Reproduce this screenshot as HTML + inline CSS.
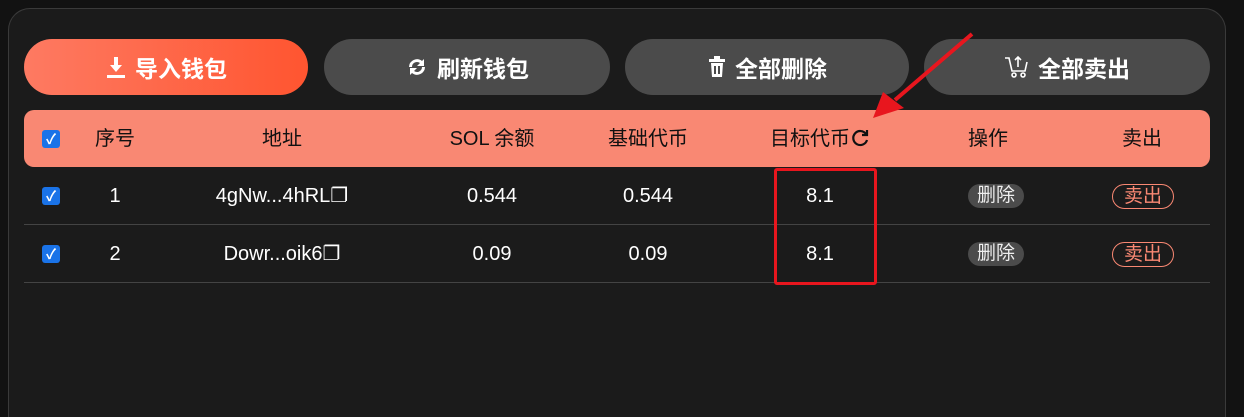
<!DOCTYPE html>
<html style="height:417px;overflow:hidden"><head><meta charset="utf-8"><style>
*{box-sizing:border-box;margin:0;padding:0}
body{width:1244px;height:417px;background:#121212;overflow:hidden;position:relative;font-family:"Liberation Sans","Noto Sans CJK SC",sans-serif;color:#fff}
.panel{position:absolute;left:8px;top:8px;width:1218px;height:409px;background:#1b1b1b;border:1px solid #3a3a3a;border-bottom:none;border-radius:22px 22px 0 0}
.btn{position:absolute;top:39px;height:56px;border-radius:28px;background:#4b4b4b;display:flex;align-items:center;justify-content:center;font-weight:bold;font-size:23px;color:#fff;gap:8px}
.btn.primary{background:linear-gradient(90deg,#fe7a62,#ff5530)}
.hdr{position:absolute;left:24px;top:110px;width:1186px;height:57px;background:#f98873;border-radius:10px;color:#111;font-size:20px}
.cell{position:absolute;transform:translateX(-50%);white-space:nowrap;top:50%;margin-top:-12px;line-height:24px}
.row{position:absolute;left:24px;width:1186px;height:58px;border-bottom:1px solid #444;font-size:20px}
.cb{position:absolute;left:18px;top:50%;margin-top:-9px;width:18px;height:18px;background:#1a73e8;border-radius:3px;color:#fff;font-size:14px;line-height:18px;text-align:center;font-weight:bold}
.del{background:#4b4b4b;border-radius:12px;padding:0 9px;font-size:19px;line-height:24px;color:#eee}
.sell{border:1px solid #f98873;border-radius:13px;padding:0 11px;font-size:19px;line-height:23px;color:#f98873}
</style></head><body>
<div class="panel"></div>
<div class="btn primary" style="left:24px;width:284px"><svg width="22" height="24" viewBox="0 0 22 24"><path d="M9 2h4v8h4l-6 7-6-7h4z" fill="#fff"/><rect x="2" y="20" width="18" height="3" fill="#fff"/></svg>导入钱包</div>
<div class="btn" style="left:324px;width:286px"><svg width="24" height="24" viewBox="0 0 24 24"><path d="M4 12a8 8 0 0 1 13-6l2-2v7h-7l3-3a5 5 0 0 0-8 4z M20 12a8 8 0 0 1-13 6l-2 2v-7h7l-3 3a5 5 0 0 0 8-4z" fill="#fff"/></svg>刷新钱包</div>
<div class="btn" style="left:625px;width:284px"><svg width="20" height="24" viewBox="0 0 20 24"><rect x="2" y="4" width="16" height="3" fill="#fff"/><rect x="7" y="1" width="6" height="3" fill="#fff"/><path d="M4 8h12l-1 14H5z" fill="#fff"/><rect x="7" y="11" width="2" height="8" fill="#4b4b4b"/><rect x="11" y="11" width="2" height="8" fill="#4b4b4b"/></svg>全部删除</div>
<div class="btn" style="left:924px;width:286px"><svg width="26" height="26" viewBox="0 0 26 26" fill="none" stroke="#fff" stroke-width="1.6"><path d="M1 4h4l3 13h13l2-9"/><path d="M14 13V3M11 6l3-3 3 3"/><circle cx="10" cy="21" r="2"/><circle cx="19" cy="21" r="2"/></svg>全部卖出</div>
<div class="hdr">
<div class="cb">✓</div>
<div class="cell" style="left:91px">序号</div>
<div class="cell" style="left:258px">地址</div>
<div class="cell" style="left:468px">SOL 余额</div>
<div class="cell" style="left:624px">基础代币</div>
<div class="cell" style="left:796px">目标代币<svg width="20" height="20" viewBox="0 0 20 20" style="vertical-align:-3px" fill="none" stroke="#111" stroke-width="2.2"><path d="M16 6A7 7 0 1 0 17 12"/><path d="M17 2v5h-5" /></svg></div>
<div class="cell" style="left:964px">操作</div>
<div class="cell" style="left:1118px">卖出</div>
</div>
<div class="row" style="top:167px">
<div class="cb">✓</div>
<div class="cell" style="left:91px">1</div>
<div class="cell" style="left:258px">4gNw...4hRL❐</div>
<div class="cell" style="left:468px">0.544</div>
<div class="cell" style="left:624px">0.544</div>
<div class="cell" style="left:796px">8.1</div>
<div class="cell del" style="left:972px">删除</div>
<div class="cell sell" style="left:1119px">卖出</div>
</div>
<div class="row" style="top:225px">
<div class="cb">✓</div>
<div class="cell" style="left:91px">2</div>
<div class="cell" style="left:258px">Dowr...oik6❐</div>
<div class="cell" style="left:468px">0.09</div>
<div class="cell" style="left:624px">0.09</div>
<div class="cell" style="left:796px">8.1</div>
<div class="cell del" style="left:972px">删除</div>
<div class="cell sell" style="left:1119px">卖出</div>
</div>
<div style="position:absolute;left:774px;top:168px;width:103px;height:117px;border:3px solid #e8161e;border-radius:3px"></div>
<svg style="position:absolute;left:0;top:0" width="1244" height="417">
<line x1="972" y1="34" x2="895" y2="100" stroke="#e8161e" stroke-width="4"/>
<polygon points="873,118 883,92 904,108" fill="#e8161e"/>
</svg>
</body></html>
